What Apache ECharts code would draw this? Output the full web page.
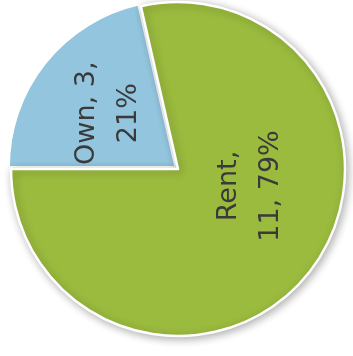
<!DOCTYPE html>
<html>
<head>
<meta charset="utf-8">
<script src="https://cdn.jsdelivr.net/npm/echarts@6/dist/echarts.min.js"></script>
<style>
html,body{margin:0;padding:0;background:#fff;}
#c{width:353px;height:356px;}
</style>
</head>
<body>
<div id="c"></div>
<script>
const categories = ['Own', 'Rent'];
const values = [3, 11];
const sliceColors = ['#93c5de', '#9bbb3e'];

const labelCenters = [[104, 97], [250, 186]];

const chart = echarts.init(document.getElementById('c'), null, {renderer: 'canvas'});
chart.setOption({
  animation: false,
  backgroundColor: '#ffffff',
  series: [{
    type: 'pie',
    center: [178, 169],
    radius: 167,
    startAngle: 180,
    clockwise: true,
    percentPrecision: 0,
    selectedMode: 'single',
    selectedOffset: 3,
    avoidLabelOverlap: false,
    data: categories.map((n, i) => ({
      name: n,
      value: values[i],
      selected: i === 0,
      itemStyle: i === 1 ? {
        color: sliceColors[i],
        borderColor: '#ffffff',
        borderWidth: 2.5,
        shadowBlur: 8,
        shadowColor: 'rgba(0,0,0,0.3)',
        shadowOffsetX: 2,
        shadowOffsetY: 2
      } : {
        color: sliceColors[i],
        borderColor: '#ffffff',
        borderWidth: 2.5
      }
    })),
    label: {
      show: true,
      position: 'inside',
      rotate: 90,
      color: '#3a3a3a',
      fontFamily: 'DejaVu Sans',
      fontSize: 27,
      lineHeight: 42,
      formatter: function (p) {
        if (p.dataIndex === 0) return p.name + ', ' + p.value + ',\n' + p.percent + '%';
        return p.name + ',\n' + p.value + ', ' + p.percent + '%';
      }
    },
    labelLine: {show: false},
    labelLayout: function (p) {
      const c = labelCenters[p.dataIndex];
      return {x: c[0], y: c[1]};
    },
    emphasis: {disabled: true}
  }]
});
</script>
</body>
</html>
